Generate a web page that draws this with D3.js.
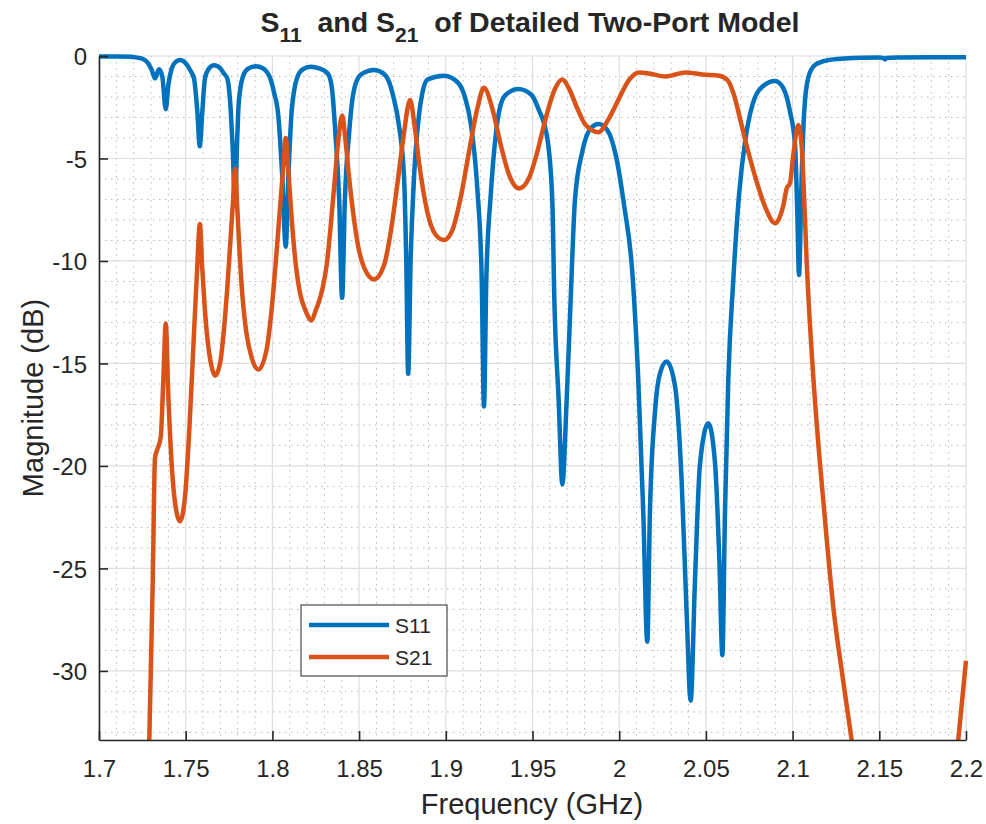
<!DOCTYPE html>
<html>
<head>
<meta charset="utf-8">
<script src="https://cdn.jsdelivr.net/npm/d3@7"></script>
<style>
  body { margin: 0; background: #fff; }
  text { font-family: "Liberation Sans", Arial, Helvetica, sans-serif; fill: #262626; }
</style>
</head>
<body>
<div id="chart"></div>
<script>
// S11 trace (GHz, dB)
const s11Freq = [1.700, 1.710, 1.718, 1.722, 1.7254, 1.7283, 1.7305, 1.7323, 1.7346, 1.7365, 1.7385, 1.7400, 1.7420, 1.7445, 1.7467,
  1.7500, 1.7530, 1.7548, 1.7567, 1.7581, 1.7596, 1.7611, 1.7635, 1.7663, 1.7700, 1.7720, 1.7740, 1.7760, 1.7770, 1.7785,
  1.7796, 1.7803, 1.7815, 1.7830, 1.7860, 1.7904, 1.7945, 1.7970, 1.7990, 1.8010, 1.8034, 1.8057, 1.8077, 1.8092, 1.8111,
  1.8125, 1.8145, 1.8175, 1.8220, 1.8270, 1.8300, 1.8326, 1.8345, 1.8365, 1.8385, 1.8402, 1.8418, 1.8442, 1.8460, 1.8482,
  1.8520, 1.8586, 1.8640, 1.8670, 1.8695, 1.8730, 1.8759, 1.8772, 1.8783, 1.8797, 1.8817, 1.8845, 1.8865, 1.8895, 1.8990,
  1.9070, 1.9110, 1.9144, 1.9182, 1.9207, 1.9220, 1.9234, 1.9259, 1.9288, 1.9310, 1.9345, 1.9418, 1.9495, 1.9535, 1.9585,
  1.9614, 1.9626, 1.9651, 1.9672, 1.9697, 1.9720, 1.9745, 1.9787, 1.9836, 1.9880, 1.9931, 1.9980, 2.0028, 2.0075, 2.0110,
  2.0139, 2.0162, 2.0177, 2.0206, 2.0235, 2.0274, 2.0322, 2.0360, 2.0389, 2.0412, 2.0437, 2.0466, 2.0514, 2.0553, 2.0578,
  2.0595, 2.0610, 2.0629, 2.0658, 2.0691, 2.0729, 2.0768, 2.0825, 2.0899, 2.0947, 2.0985, 2.1014, 2.1027, 2.1037, 2.1052,
  2.1067, 2.1090, 2.1129, 2.1206, 2.1300, 2.1398, 2.1500, 2.1525, 2.1533, 2.1541, 2.1600, 2.1800, 2.2000];
const s11Db = [-0.03, -0.03, -0.04, -0.08, -0.15, -0.35, -0.7, -1.1, -0.65, -1.0, -2.6, -1.4, -0.6, -0.27, -0.2,
  -0.35, -0.75, -1.1, -2.7, -4.4, -2.7, -1.1, -0.6, -0.45, -0.6, -0.85, -1.1, -2.7, -4.3, -7.3,
  -4.3, -2.7, -1.6, -1.0, -0.62, -0.5, -0.6, -0.8, -1.15, -1.8, -2.9, -5.9, -9.3, -5.9, -2.7,
  -1.7, -1.0, -0.65, -0.52, -0.6, -0.72, -0.95, -1.7, -4.0, -7.0, -11.8, -7.0, -3.8, -2.2, -1.3,
  -0.85, -0.68, -0.85, -1.2, -1.9, -3.4, -5.9, -10.0, -15.5, -10.0, -5.9, -2.9, -1.8, -1.15, -0.96,
  -1.3, -2.0, -3.3, -6.5, -10.8, -17.1, -10.8, -6.8, -3.85, -2.6, -1.9, -1.61, -1.9, -2.6, -4.0,
  -7.0, -11.9, -16.8, -20.9, -16.8, -11.9, -7.0, -4.67, -3.53, -3.32, -3.61, -4.83, -7.27, -10.5, -15.8,
  -22.3, -28.57, -22.3, -17.4, -15.5, -14.91, -16.1, -20.7, -27.2, -31.45, -25.6, -19.9, -17.92, -19.9, -24.7,
  -29.22, -22.3, -15.8, -10.93, -6.78, -4.0, -2.39, -1.5, -1.22, -1.58, -2.71, -4.34, -7.6, -10.68, -5.95,
  -2.71, -1.07, -0.44, -0.2, -0.12, -0.08, -0.07, -0.1, -0.17, -0.1, -0.07, -0.06, -0.06];

// S21 trace (GHz, dB)
const s21Freq = [1.700, 1.720, 1.726, 1.729, 1.731, 1.7323, 1.7336, 1.7356, 1.7371, 1.7385, 1.7400, 1.7419, 1.7448, 1.7467, 1.7496,
  1.7521, 1.7544, 1.7563, 1.7582, 1.7595, 1.7610, 1.7628, 1.7648, 1.7669, 1.7698, 1.7720, 1.7740, 1.7758, 1.7772, 1.7785,
  1.7798, 1.7812, 1.7830, 1.7850, 1.7880, 1.7919, 1.7967, 1.7995, 1.8020, 1.8045, 1.8063, 1.8077, 1.8092, 1.8110, 1.8135,
  1.8160, 1.8190, 1.8226, 1.8250, 1.8268, 1.8290, 1.8313, 1.8335, 1.8358, 1.8380, 1.8403, 1.8420, 1.8442, 1.8465, 1.8495,
  1.8528, 1.8586, 1.8644, 1.8682, 1.8720, 1.8755, 1.8794, 1.8820, 1.8845, 1.8893, 1.8942, 1.8990, 1.9038, 1.9086, 1.9134,
  1.9182, 1.9220, 1.9268, 1.9317, 1.9365, 1.9422, 1.9480, 1.9528, 1.9576, 1.9630, 1.9672, 1.9710, 1.9758, 1.9807, 1.9880,
  1.9941, 1.9999, 2.0057, 2.0114, 2.0172, 2.0268, 2.0383, 2.0479, 2.0576, 2.0624, 2.0662, 2.0701, 2.0739, 2.0787, 2.0845,
  2.0899, 2.0947, 2.0966, 2.0985, 2.1004, 2.1033, 2.1052, 2.1066, 2.1081, 2.1119, 2.1158, 2.1197, 2.1235, 2.1292, 2.1341,
  2.1400, 2.1500, 2.1650, 2.1800, 2.1900, 2.1955, 2.2000];
const s21Db = [-60, -48, -40, -33.4, -25.6, -19.6, -19.2, -18.6, -15.8, -13.05, -16.6, -19.9, -22.3, -22.7, -21.5,
  -18.2, -14.2, -10.9, -8.2, -10.3, -12.3, -14.0, -15.1, -15.6, -15.0, -13.4, -11.3, -9.0, -7.2, -5.5,
  -7.5, -9.8, -12.0, -13.5, -14.7, -15.3, -14.3, -12.4, -10.0, -7.3, -5.4, -4.0, -5.6, -7.8, -10.2,
  -11.6, -12.4, -12.9, -12.4, -12.0, -11.3, -10.2, -8.4, -6.2, -4.1, -2.9, -4.0, -5.9, -7.6, -9.3,
  -10.3, -10.9, -10.2, -8.6, -6.3, -4.0, -2.15, -3.4, -5.15, -7.6, -8.73, -8.98, -8.5, -6.9, -4.67,
  -2.55, -1.55, -2.55, -4.34, -5.8, -6.46, -5.95, -4.67, -3.04, -1.6, -1.15, -1.58, -2.55, -3.37, -3.72,
  -3.04, -2.07, -1.17, -0.8, -0.85, -1.0, -0.8, -0.9, -0.96, -1.17, -1.9, -3.2, -4.5, -5.97, -7.43,
  -8.16, -7.27, -6.46, -6.2, -4.83, -3.37, -4.34, -6.78, -10.0, -15.6, -19.9, -23.6, -26.9, -30.5, -33.4,
  -36.5, -41, -45, -44, -39, -33.4, -29.5];

const xTicks = [1.7, 1.75, 1.8, 1.85, 1.9, 1.95, 2, 2.05, 2.1, 2.15, 2.2];
const yTicks = [0, -5, -10, -15, -20, -25, -30];
const seriesNames = ["S11", "S21"];
const seriesColors = ["#0072BD", "#D95319"];

const margin = { top: 56, right: 20, bottom: 84, left: 99 },
    width = 966 - margin.left,
    height = 740 - margin.top;

const svg = d3.select("#chart")
    .append("svg")
    .attr("width", 986)
    .attr("height", 824);

const g = svg.append("g")
    .attr("transform", `translate(${margin.left}, ${margin.top})`);

const x = d3.scaleLinear().domain([1.7, 2.2]).range([0, width]);
const y = d3.scaleLinear().domain([-33.37, 0]).range([height, 0]);

// minor grid (dotted)
const minorX = d3.range(170, 221).map(d => d / 100).filter(d => Math.round(d * 100) % 5 !== 0);
const minorY = d3.range(0, -34, -1).filter(d => d % 5 !== 0);
g.selectAll(".minor-x").data(minorX).enter().append("line")
    .attr("x1", d => x(d)).attr("x2", d => x(d))
    .attr("y1", 0).attr("y2", height)
    .attr("stroke", "#b8b8b8").attr("stroke-width", 1)
    .attr("stroke-dasharray", "1.5,4.5");
g.selectAll(".minor-y").data(minorY).enter().append("line")
    .attr("x1", 0).attr("x2", width)
    .attr("y1", d => y(d)).attr("y2", d => y(d))
    .attr("stroke", "#b8b8b8").attr("stroke-width", 1)
    .attr("stroke-dasharray", "1.5,4.5");

// major grid
g.selectAll(".major-x").data(xTicks).enter().append("line")
    .attr("x1", d => x(d)).attr("x2", d => x(d))
    .attr("y1", 0).attr("y2", height)
    .attr("stroke", "#dedede").attr("stroke-width", 1.2);
g.selectAll(".major-y").data(yTicks).enter().append("line")
    .attr("x1", 0).attr("x2", width)
    .attr("y1", d => y(d)).attr("y2", d => y(d))
    .attr("stroke", "#dedede").attr("stroke-width", 1.2);

// clip the traces to the axes box
svg.append("defs").append("clipPath").attr("id", "plotclip")
    .append("rect").attr("x", 0).attr("y", -6).attr("width", width + 4).attr("height", height + 6);

const line = d3.line()
    .x(d => x(d[0]))
    .y(d => y(d[1]))
    .curve(d3.curveMonotoneX);

const traces = [d3.zip(s11Freq, s11Db), d3.zip(s21Freq, s21Db)];
g.append("g").attr("clip-path", "url(#plotclip)")
    .selectAll("path").data(traces).enter().append("path")
    .attr("d", line)
    .attr("fill", "none")
    .attr("stroke", (d, i) => seriesColors[i])
    .attr("stroke-width", 4.5)
    .attr("stroke-linejoin", "round");

// X axis
const xAxis = g.append("g")
    .attr("transform", `translate(0, ${height})`)
    .call(d3.axisBottom(x).tickValues(xTicks).tickFormat(d3.format("")).tickSizeInner(-9).tickSizeOuter(0).tickPadding(20));
// Y axis
const yAxis = g.append("g")
    .call(d3.axisLeft(y).tickValues(yTicks).tickFormat(d => d).tickSizeInner(-9).tickSizeOuter(0).tickPadding(12));

[xAxis, yAxis].forEach(a => {
    a.select(".domain").attr("stroke", "#262626").attr("stroke-width", 1.6);
    a.selectAll(".tick line").attr("stroke", "#262626").attr("stroke-width", 1.6);
    a.selectAll(".tick text")
        .style("font-family", "'Liberation Sans', Arial, sans-serif")
        .style("font-size", "24px")
        .attr("fill", "#262626");
});
yAxis.selectAll(".tick text").attr("dy", "0.36em");

// axis labels
svg.append("text")
    .attr("x", 532)
    .attr("y", 814)
    .attr("text-anchor", "middle")
    .style("font-size", "29px")
    .text("Frequency (GHz)");

svg.append("text")
    .attr("transform", "translate(43, 398) rotate(-90)")
    .attr("text-anchor", "middle")
    .style("font-size", "29px")
    .text("Magnitude (dB)");

// title with subscripts
const title = svg.append("text")
    .attr("x", 530)
    .attr("y", 32)
    .attr("text-anchor", "middle")
    .style("font-size", "28.5px")
    .style("font-weight", "bold")
    .attr("fill", "#000");
title.append("tspan").text("S");
title.append("tspan").attr("dy", 10).style("font-size", "21px").text("11");
title.append("tspan").attr("dy", -10).text("  and S");
title.append("tspan").attr("dy", 10).style("font-size", "21px").text("21");
title.append("tspan").attr("dy", -10).text("  of Detailed Two-Port Model");
title.selectAll("tspan").style("white-space", "pre").attr("xml:space", "preserve");

// legend
const legend = svg.append("g").attr("transform", "translate(301, 605)");
legend.append("rect")
    .attr("width", 146).attr("height", 71)
    .attr("fill", "#fff")
    .attr("stroke", "#262626").attr("stroke-width", 1);
const entries = legend.selectAll(".entry").data(seriesNames).enter().append("g")
    .attr("transform", (d, i) => `translate(0, ${20 + i * 32})`);
entries.append("line")
    .attr("x1", 8).attr("x2", 88)
    .attr("stroke", (d, i) => seriesColors[i])
    .attr("stroke-width", 4.5);
entries.append("text")
    .attr("x", 94).attr("y", 8)
    .style("font-size", "21px")
    .attr("fill", "#000")
    .text(d => d);
</script>
</body>
</html>
